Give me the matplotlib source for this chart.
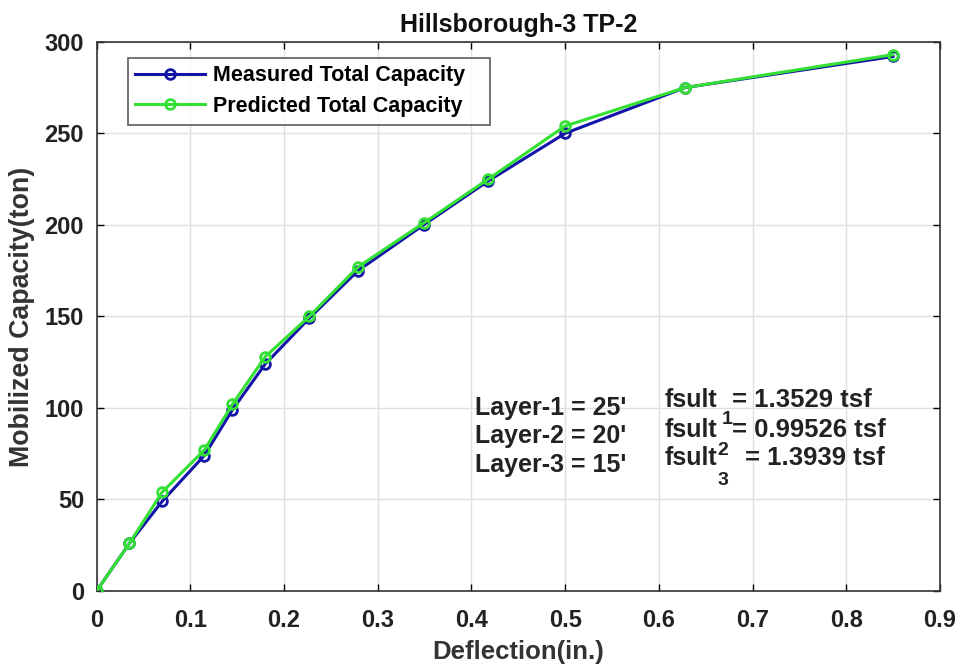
import matplotlib
matplotlib.use("Agg")
import matplotlib.pyplot as plt

plt.rcParams['font.family'] = ['Liberation Sans', 'DejaVu Sans']

deflection = [0, 0.035, 0.070, 0.115, 0.145, 0.180, 0.227, 0.279, 0.349, 0.418, 0.500, 0.628, 0.850]
measured = [0, 26, 49, 74, 99, 124, 149, 175, 200, 224, 250, 275, 292]
predicted = [0, 26, 54, 77, 102, 128, 150, 177, 201, 225, 254, 275, 293]

xticks = [0, 0.1, 0.2, 0.3, 0.4, 0.5, 0.6, 0.7, 0.8, 0.9]
xticklabels = ['0', '0.1', '0.2', '0.3', '0.4', '0.5', '0.6', '0.7', '0.8', '0.9']
yticks = [0, 50, 100, 150, 200, 250, 300]

layer_lines = ["Layer-1 = 25'", "Layer-2 = 20'", "Layer-3 = 15'"]
fsult_subs = ["1", "2", "3"]
fsult_values = ["= 1.3529 tsf", "= 0.99526 tsf", "= 1.3939 tsf"]

fig = plt.figure(figsize=(9.66, 6.64), dpi=100)
ax = fig.add_axes([0.100, 0.110, 0.873, 0.827])

ax.plot(deflection, measured, color='#1414a8', lw=2.2, marker='o', ms=7,
        mfc='none', mec='#1414a8', mew=2, label='Measured Total Capacity', zorder=3)
ax.plot(deflection, predicted, color='#33e033', lw=2.2, marker='o', ms=7,
        mfc='none', mec='#33e033', mew=2, label='Predicted Total Capacity', zorder=4)

ax.set_xlim(0, 0.9)
ax.set_ylim(0, 300)
ax.set_xticks(xticks)
ax.set_xticklabels(xticklabels)
ax.set_yticks(yticks)
ax.grid(True, color='#e0e0e0', lw=1)
ax.set_axisbelow(True)
ax.tick_params(direction='in', labelsize=17, length=5, width=1, top=True, right=True,
               labelcolor='#222222')
ax.tick_params(axis='x', pad=13)
ax.tick_params(axis='y', pad=9)
for lab in ax.get_xticklabels() + ax.get_yticklabels():
    lab.set_fontweight('bold')
for sp in ax.spines.values():
    sp.set_linewidth(1.2)
    sp.set_color('#333333')

ax.set_xlabel('Deflection(in.)', fontsize=18.5, fontweight='bold', color='#333333', labelpad=6)
ax.set_ylabel('Mobilized Capacity(ton)', fontsize=19.3, fontweight='bold', color='#333333', labelpad=7)
ax.set_title('Hillsborough-3 TP-2', fontsize=18, fontweight='bold', pad=7, color='#111111')

leg = ax.legend(loc='upper left', bbox_to_anchor=(0.0368, 0.971, 0.4294, 0.0), mode='expand',
                frameon=True, fancybox=False, edgecolor='#333333', handlelength=3.25,
                borderpad=0.35, labelspacing=0.45, handletextpad=0.35, borderaxespad=0,
                prop={'weight': 'bold', 'size': 15.5})
leg.get_frame().set_linewidth(1.2)

for i, t in enumerate(layer_lines):
    ax.text(0.4035, 96.2 - i * 15.6, t, fontsize=18, fontweight='bold', color='#222222', va='baseline')
fsult_base = [100.5, 84.2, 68.9]
sub_base = [91.3, 74.3, 57.9]
sub_x = [0.667, 0.663, 0.663]
val_x = [0.678, 0.678, 0.692]
for i in range(3):
    ax.text(0.606, fsult_base[i], "fsult", fontsize=18, fontweight='bold', color='#222222', va='baseline')
    ax.text(sub_x[i], sub_base[i], fsult_subs[i], fontsize=14, fontweight='bold', color='#222222', va='baseline')
    ax.text(val_x[i], fsult_base[i], fsult_values[i], fontsize=18.5, fontweight='bold', color='#222222', va='baseline')

fig.savefig('out.png', dpi=100)
